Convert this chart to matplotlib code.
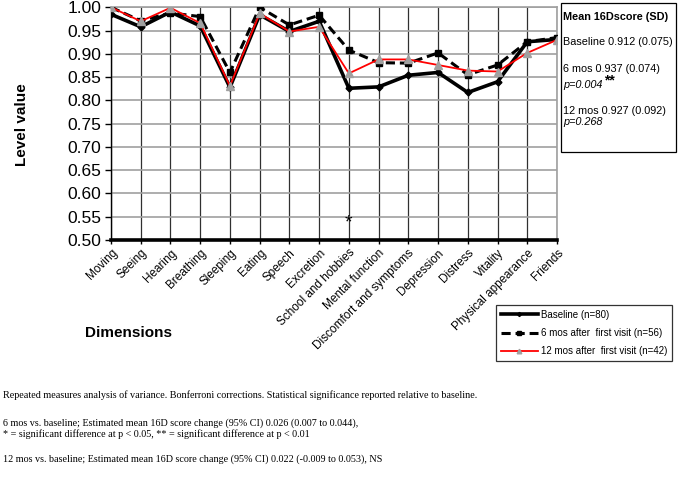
import matplotlib
matplotlib.use("Agg")
import matplotlib.pyplot as plt
import numpy as np

categories = ["Moving", "Seeing", "Hearing", "Breathing", "Sleeping", "Eating",
              "Speech", "Excretion", "School and hobbies", "Mental function",
              "Discomfort and symptoms", "Depression", "Distress", "Vitality",
              "Physical appearance", "Friends"]
baseline = [0.985, 0.958, 0.990, 0.960, 0.828, 0.984, 0.948, 0.970, 0.826,
            0.829, 0.854, 0.860, 0.817, 0.840, 0.926, 0.931]
mos6 = [1.000, 0.971, 0.988, 0.980, 0.860, 1.000, 0.962, 0.983, 0.908,
        0.881, 0.880, 0.902, 0.855, 0.876, 0.926, 0.935]
mos12 = [1.000, 0.970, 0.999, 0.966, 0.831, 0.987, 0.948, 0.958, 0.858,
         0.888, 0.888, 0.876, 0.864, 0.862, 0.902, 0.930]
yticks = np.arange(0.50, 1.0001, 0.05)

plt.rcParams['font.family'] = ['Liberation Sans', 'DejaVu Sans']

fig = plt.figure(figsize=(6.85, 4.79), dpi=100)
ax = fig.add_axes([111/685, 1-240/479, (557-111)/685, (240-7.3)/479])

x = np.arange(len(categories))
ax.plot(x, baseline, color='black', lw=2.6, marker='D', ms=3.5, mfc='black',
        mec='black', label='Baseline (n=80)', zorder=4, solid_joinstyle='miter')
ax.plot(x, mos6, color='black', lw=2.2, ls=(0, (3, 1.6)), marker='s', ms=4.5,
        mfc='black', mec='black', label='6 mos after  first visit (n=56)', zorder=5)
ax.plot(x, mos12, color='#ff0000', lw=1.3, marker='^', ms=5.5, mfc='#a0a0a0',
        mec='#a0a0a0', label='12 mos after  first visit (n=42)', zorder=6)

ax.set_xlim(0, len(categories)-1)
ax.set_ylim(0.5, 1.0)
ax.set_yticks(yticks)
ax.set_yticklabels([f"{v:.2f}" for v in yticks], fontsize=12.5)
ax.set_xticks(x)
ax.set_xticklabels(categories, rotation=45, ha='right', rotation_mode='anchor',
                   fontsize=8.5)
ax.tick_params(axis='x', length=3, width=1, pad=2)
ax.tick_params(axis='y', length=4, width=1, pad=3)

ax.grid(axis='y', color='#a0a0a0', lw=1.2, zorder=0)
ax.grid(axis='x', color='#303030', lw=0.9, zorder=0)
for s in ['top', 'right']:
    ax.spines[s].set_color('#a0a0a0')
    ax.spines[s].set_linewidth(1.2)
ax.spines['left'].set_color('black')
ax.spines['left'].set_linewidth(1.0)
ax.spines['bottom'].set_color('black')
ax.spines['bottom'].set_linewidth(2.6)
ax.set_axisbelow(True)

ax.text(8, 0.537, '*', ha='center', va='center', fontsize=14)

fig.text(22/685, 1-125/479, 'Level value', rotation=90, fontsize=11,
         fontweight='bold', ha='center', va='center')
fig.text(85/685, 1-333/479, 'Dimensions', fontsize=11, fontweight='bold',
         ha='left', va='center')

leg = fig.legend(loc='upper left', bbox_to_anchor=(496/685, 1-305/479),
                 fontsize=7, frameon=True, fancybox=False, edgecolor='black',
                 handlelength=3.8, borderpad=0.5, labelspacing=0.85,
                 handletextpad=0.3, borderaxespad=0, markerscale=0.6)
leg.get_frame().set_linewidth(0.9)

# right info box
from matplotlib.patches import Rectangle
fig.patches.append(Rectangle((561/685, 1-152/479), (676-561)/685, (152-3)/479,
                             transform=fig.transFigure, fill=False,
                             edgecolor='black', lw=0.9))
fig.text(563/685, 1-17/479, 'Mean 16Dscore (SD)', fontsize=7.8, fontweight='bold',
         va='center')
fig.text(563/685, 1-42/479, 'Baseline 0.912 (0.075)', fontsize=7.8, va='center')
fig.text(563/685, 1-69/479, '6 mos 0.937 (0.074)', fontsize=7.8, va='center')
fig.text(563/685, 1-85/479, 'p=0.004', fontsize=7.8, style='italic', va='center')
fig.text(604/685, 1-80/479, '**', fontsize=10, fontweight='bold', va='center')
fig.text(563/685, 1-111/479, '12 mos 0.927 (0.092)', fontsize=7.8, va='center')
fig.text(563/685, 1-122/479, 'p=0.268', fontsize=7.8, style='italic', va='center')

serif = ['Liberation Serif', 'DejaVu Serif']
notes = [
    (395, "Repeated measures analysis of variance. Bonferroni corrections. Statistical significance reported relative to baseline."),
    (423, "6 mos vs. baseline; Estimated mean 16D score change (95% CI) 0.026 (0.007 to 0.044),"),
    (434, "* = significant difference at p < 0.05, ** = significant difference at p < 0.01"),
    (459, "12 mos vs. baseline; Estimated mean 16D score change (95% CI) 0.022 (-0.009 to 0.053), NS"),
]
for yy, t in notes:
    fig.text(3/685, 1-yy/479, t, fontsize=7.25, family=serif, va='center', ha='left')

fig.savefig('out.png', dpi=100)
